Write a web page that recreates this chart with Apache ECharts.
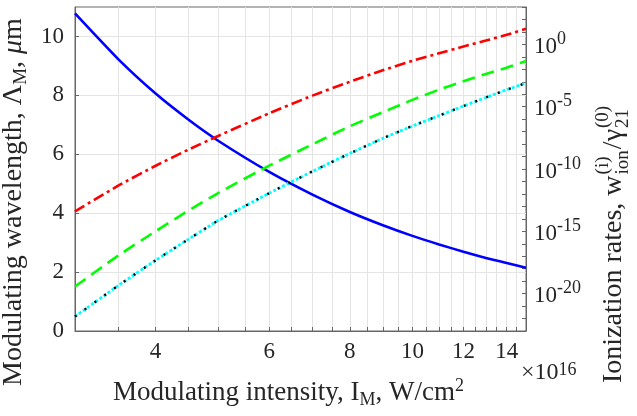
<!DOCTYPE html>
<html><head><meta charset="utf-8">
<script src="https://cdn.jsdelivr.net/npm/echarts@6/dist/echarts.min.js"></script>
<style>html,body{margin:0;padding:0;background:#fff}#c{width:637px;height:416px}</style>
</head><body><div id="c"></div>
<script>
// Modulating intensity, units of 1e16 W/cm^2
const intensity = [3, 3.5, 4, 4.5, 5, 6, 7, 8, 9, 10, 11, 12, 13, 14, 15];
// Modulating wavelength (left axis, um)
const wavelength = [10.78, 9.23, 8.06, 7.17, 6.46, 5.40, 4.63, 4.04, 3.59, 3.23, 2.94, 2.69, 2.48, 2.31, 2.15];
// Ionization rates (right axis), stored as log10 of the rate
const rateRedLog10 = [-13.40, -11.34, -9.74, -8.44, -7.35, -5.53, -4.11, -3.00, -2.08, -1.32, -0.71, -0.17, 0.31, 0.77, 1.25];
const rateGreenLog10 = [-19.43, -16.95, -14.99, -13.33, -11.93, -9.73, -8.02, -6.57, -5.44, -4.45, -3.63, -2.96, -2.37, -1.87, -1.33];
const rateCyanLog10 = [-21.84, -19.36, -17.33, -15.63, -14.14, -11.94, -10.19, -8.75, -7.54, -6.55, -5.72, -4.95, -4.26, -3.64, -3.10];
const rateBlackLog10 = [-21.84, -19.36, -17.33, -15.63, -14.14, -11.94, -10.19, -8.75, -7.54, -6.55, -5.72, -4.95, -4.26, -3.64, -3.10];
// Axis ticks
const xTickLabels = [4, 6, 8, 10, 12, 14];
const xGridValues = [3.5, 4, 4.5, 5, 5.5, 6, 6.5, 7, 7.5, 8, 8.5, 9, 9.5, 10, 10.5, 11, 11.5, 12, 12.5, 13, 13.5, 14, 14.5];
const xRange = [3, 15];
const yLeftTicks = [0, 2, 4, 6, 8, 10];
const yLeftRange = [0, 11];
const yRightLabelExps = [-20, -15, -10, -5, 0];
const yRightTickExps = [-23, -22, -21, -20, -19, -18, -17, -16, -15, -14, -13, -12, -11, -10, -9, -8, -7, -6, -5, -4, -3, -2, -1, 0, 1, 2, 3];
const yRightRange = [-23, 3];

const FONT = '"Liberation Serif", "Times New Roman", serif';
const TXT = '#262626';
const lg = Math.log10;
const pairs = arr => intensity.map((I, i) => [lg(I), arr[i]]);

const chart = echarts.init(document.getElementById('c'), null, {renderer: 'canvas'});

// measure text widths for the composed right title
const mctx = document.createElement('canvas').getContext('2d');
function tw(t, size) { mctx.font = size + 'px ' + FONT; return mctx.measureText(t).width; }

const mainSize = 28, scSize = 19;
const t1 = 'Ionization rates, w';
const w1 = tw(t1, mainSize);
const wSc1 = Math.max(tw('ion', scSize), tw('(i)', scSize));
const t2 = '/\u03b3';
const w2 = tw(t2, mainSize);
const subDy = 9, supDy = -11;
const titleEls = [
  {type: 'text', x: 0, y: 0, style: {text: t1, font: mainSize + 'px ' + FONT, fill: TXT, align: 'left', verticalAlign: 'middle'}},
  {type: 'text', x: w1 + 1, y: subDy, style: {text: 'ion', font: scSize + 'px ' + FONT, fill: TXT, align: 'left', verticalAlign: 'middle'}},
  {type: 'text', x: w1 + 1, y: supDy, style: {text: '(i)', font: scSize + 'px ' + FONT, fill: TXT, align: 'left', verticalAlign: 'middle'}},
  {type: 'text', x: w1 + wSc1 + 2, y: 0, style: {text: t2, font: mainSize + 'px ' + FONT, fill: TXT, align: 'left', verticalAlign: 'middle'}},
  {type: 'text', x: w1 + wSc1 + w2 + 3, y: subDy, style: {text: '21', font: scSize + 'px ' + FONT, fill: TXT, align: 'left', verticalAlign: 'middle'}},
  {type: 'text', x: w1 + wSc1 + w2 + 3, y: supDy, style: {text: '(0)', font: scSize + 'px ' + FONT, fill: TXT, align: 'left', verticalAlign: 'middle'}}
];

const lineCommon = {type: 'line', showSymbol: false, smooth: 0.2};

const option = {
  backgroundColor: '#fff',
  animation: false,
  grid: {left: 75, right: 111, top: 7, bottom: 85, containLabel: false, outerBoundsMode: 'none',
    show: true, borderColor: '#666', borderWidth: 1, backgroundColor: 'transparent'},
  xAxis: {
    type: 'value', min: lg(xRange[0]), max: lg(xRange[1]),
    name: 'Modulating intensity, I{sub|M}, W/cm{sup|2}',
    nameLocation: 'middle', nameGap: 46,
    nameTextStyle: {fontFamily: FONT, fontSize: 27, color: TXT, lineHeight: 32, padding: [0, 24, 0, 0],
      rich: {sub: {fontFamily: FONT, fontSize: 18, color: TXT, lineHeight: 14, verticalAlign: 'bottom'},
             sup: {fontFamily: FONT, fontSize: 18, color: TXT, lineHeight: 14, verticalAlign: 'top'}}},
    axisLine: {show: true, lineStyle: {color: '#666', width: 1}},
    axisTick: {show: true, inside: true, length: 4, lineStyle: {color: '#666'}, customValues: xGridValues.map(lg)},
    axisLabel: {customValues: xTickLabels.map(lg), formatter: v => String(Math.round(Math.pow(10, v))),
      fontFamily: FONT, fontSize: 23, color: TXT, margin: 9},
    splitLine: {show: true, lineStyle: {color: '#e4e4e4', width: 1}}
  },
  yAxis: [
    {
      type: 'value', position: 'left', min: yLeftRange[0], max: yLeftRange[1],
      name: 'Modulating wavelength, \u039b{sub|M}, {it|\u03bc}m',
      nameLocation: 'middle', nameGap: 30, nameRotate: 90,
      nameTextStyle: {fontFamily: FONT, fontSize: 28, color: TXT, lineHeight: 32, padding: [0, 66, 0, 0],
        rich: {sub: {fontFamily: FONT, fontSize: 19, color: TXT, lineHeight: 14, verticalAlign: 'bottom'},
               it: {fontFamily: FONT, fontSize: 28, fontStyle: 'italic', color: TXT, lineHeight: 32}}},
      axisLine: {show: true, lineStyle: {color: '#666'}},
      axisTick: {show: true, inside: true, length: 4, lineStyle: {color: '#666'}, customValues: yLeftTicks},
      axisLabel: {customValues: yLeftTicks, fontFamily: FONT, fontSize: 23, color: TXT, margin: 11},
      splitLine: {show: true, lineStyle: {color: '#e4e4e4', width: 1}}
    },
    {
      type: 'value', position: 'right', min: yRightRange[0], max: yRightRange[1],
      axisLine: {show: true, lineStyle: {color: '#666'}},
      axisTick: {show: true, inside: true, length: 4, lineStyle: {color: '#666'}, customValues: yRightTickExps},
      axisLabel: {customValues: yRightLabelExps, margin: 8,
        formatter: v => '{b|10}{s|' + v + '}',
        rich: {b: {fontFamily: FONT, fontSize: 23, color: TXT, lineHeight: 28, verticalAlign: 'bottom'},
               s: {fontFamily: FONT, fontSize: 18, color: TXT, lineHeight: 16, verticalAlign: 'top'}}},
      splitLine: {show: false}
    }
  ],
  series: [
    Object.assign({}, lineCommon, {yAxisIndex: 0, data: pairs(wavelength),
      lineStyle: {color: '#0000ff', width: 2.6}}),
    Object.assign({}, lineCommon, {yAxisIndex: 1, data: pairs(rateRedLog10),
      lineStyle: {color: '#ff0000', width: 2.6, type: [11, 4, 3, 4]}}),
    Object.assign({}, lineCommon, {yAxisIndex: 1, data: pairs(rateGreenLog10),
      lineStyle: {color: '#00ff00', width: 2.6, type: [13, 7]}}),
    Object.assign({}, lineCommon, {yAxisIndex: 1, data: pairs(rateCyanLog10),
      lineStyle: {color: '#00ffff', width: 2.8, type: [3, 2]}}),
    Object.assign({}, lineCommon, {yAxisIndex: 1, data: pairs(rateBlackLog10),
      lineStyle: {color: '#000000', width: 2.4, type: [2, 10]}})
  ],
  graphic: [
    {type: 'text', left: 521, top: 361, style: {text: '\u00d710{s|16}', font: '24px ' + FONT, fill: TXT,
      rich: {s: {fontFamily: FONT, fontSize: 18, fill: TXT, verticalAlign: 'top', lineHeight: 14}}}},
    {type: 'group', x: 614, y: 383, rotation: Math.PI / 2, children: titleEls}
  ]
};
chart.setOption(option);
</script>
</body></html>
